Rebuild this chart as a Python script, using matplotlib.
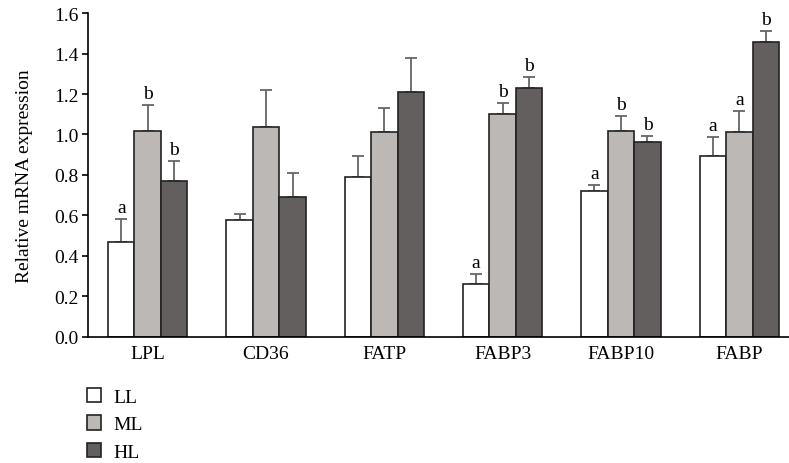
import matplotlib.pyplot as plt
import numpy as np

plt.rcParams['font.family'] = ['Liberation Serif', 'DejaVu Serif']

genes = ['LPL', 'CD36', 'FATP', 'FABP3', 'FABP10', 'FABP']
groups = ['LL', 'ML', 'HL']

ll_mean = [0.47, 0.578, 0.792, 0.262, 0.719, 0.892]
ml_mean = [1.019, 1.035, 1.014, 1.100, 1.017, 1.012]
hl_mean = [0.772, 0.691, 1.208, 1.230, 0.961, 1.455]

ll_err = [0.111, 0.029, 0.102, 0.051, 0.033, 0.096]
ml_err = [0.127, 0.183, 0.115, 0.056, 0.073, 0.103]
hl_err = [0.096, 0.117, 0.170, 0.054, 0.032, 0.055]

ll_sig = ['a', '', '', 'a', 'a', 'a']
ml_sig = ['b', '', '', 'b', 'b', 'a']
hl_sig = ['b', '', '', 'b', 'b', 'b']

colors = ['#ffffff', '#bbb8b6', '#635f5e']

fig = plt.figure(figsize=(7.89, 4.64), dpi=100)
ax = fig.add_axes([0.1115, 0.2716, 0.8885, 0.6982])

x = np.arange(len(genes))
width = 0.224
means = [ll_mean, ml_mean, hl_mean]
errs = [ll_err, ml_err, hl_err]
sigs = [ll_sig, ml_sig, hl_sig]

handles = []
for i, (m, e, s) in enumerate(zip(means, errs, sigs)):
    pos = x + (i - 1) * width
    bars = ax.bar(pos, m, width, color=colors[i], edgecolor='#222222',
                  linewidth=1.2, label=groups[i], zorder=2)
    ax.errorbar(pos, m, yerr=[np.zeros(len(m)), e], fmt='none',
                ecolor='#666666', elinewidth=1.3, capsize=4, capthick=1.3, zorder=1)
    handles.append(bars)
    for xp, top, lab in zip(pos, np.array(m) + np.array(e), s):
        if lab:
            ax.text(xp, top + 0.015, lab, ha='center', va='bottom', fontsize=14)

ax.set_xlim(-0.505, 5.42)
ax.set_ylim(0, 1.6)
ax.set_yticks(np.arange(0, 1.61, 0.2))
ax.set_yticklabels([f'{v:.1f}' for v in np.arange(0, 1.61, 0.2)], fontsize=14)
ax.set_xticks(x)
ax.set_xticklabels(genes, fontsize=14)
ax.tick_params(axis='x', length=0, pad=6)
ax.tick_params(axis='y', length=4, width=1.2, direction='out', pad=3)
ax.set_ylabel('Relative mRNA expression', fontsize=14, labelpad=15)

for side in ['top', 'right']:
    ax.spines[side].set_visible(False)
for side in ['left', 'bottom']:
    ax.spines[side].set_linewidth(1.2)

fig.legend(handles=handles, labels=groups, loc='upper left',
           bbox_to_anchor=(0.1, 0.178), frameon=False, fontsize=14,
           handlelength=0.75, handleheight=0.75, handletextpad=0.6,
           labelspacing=0.48, borderaxespad=0)

plt.savefig('out.png', dpi=100)
